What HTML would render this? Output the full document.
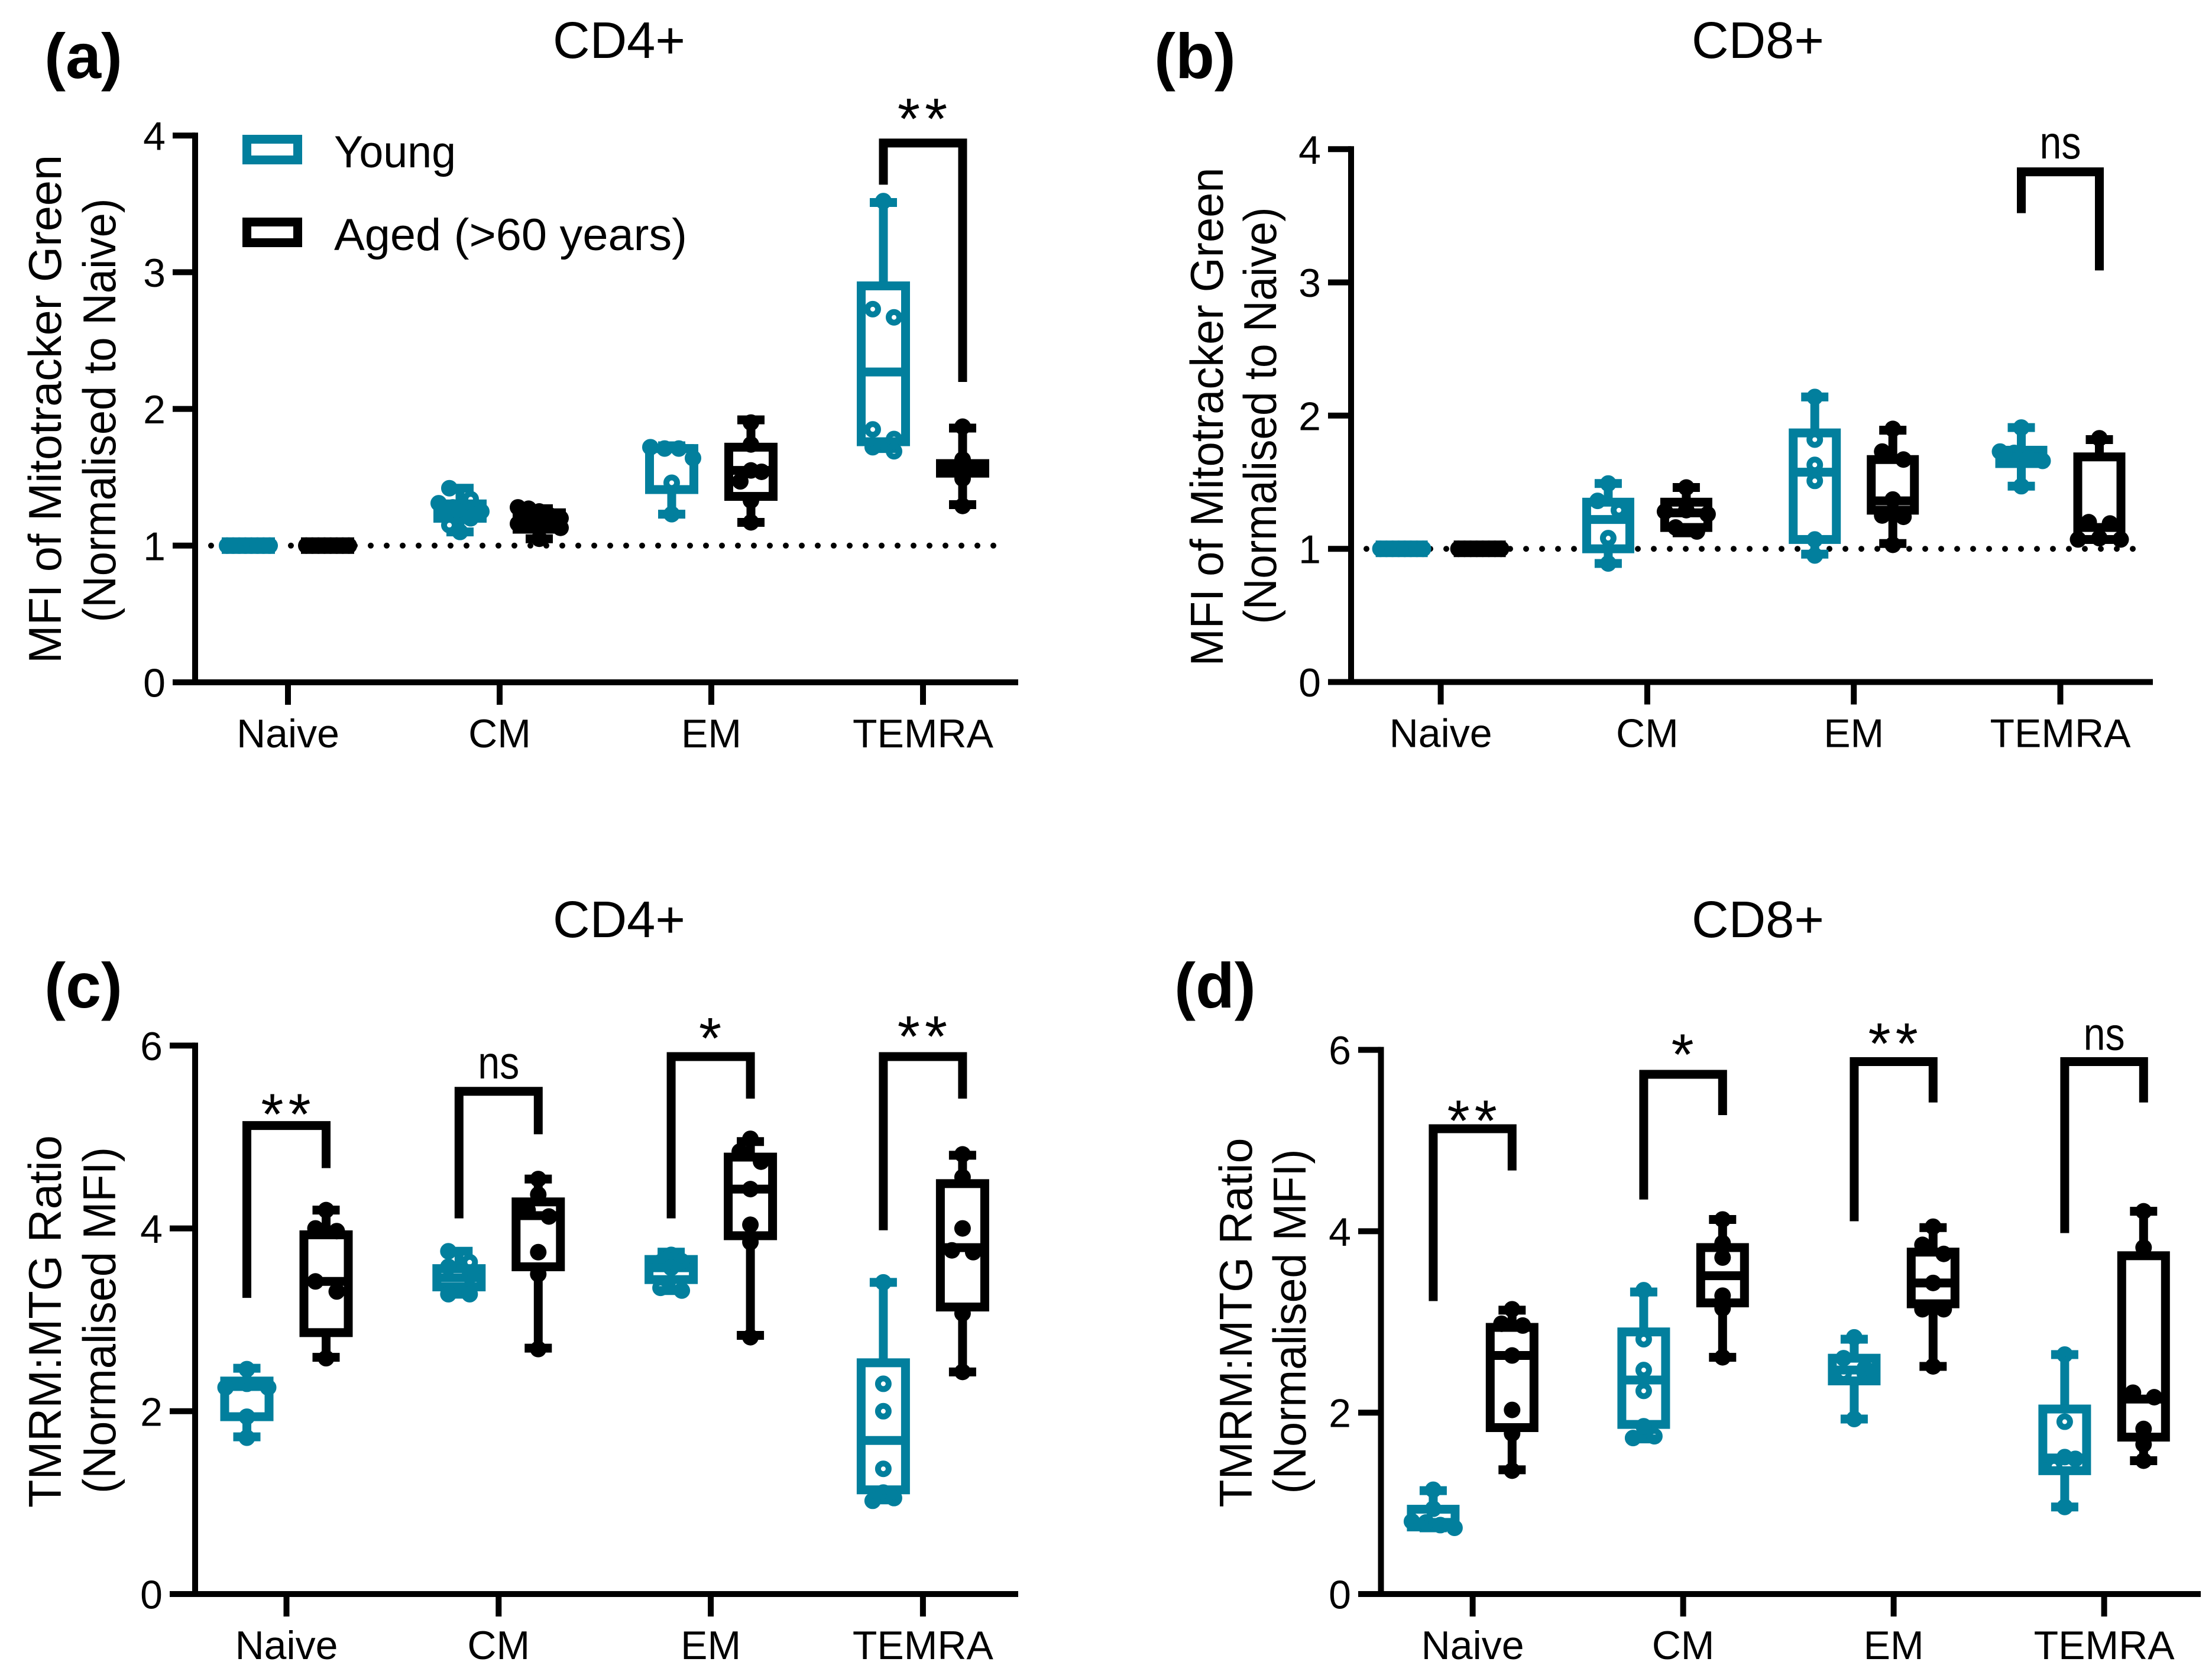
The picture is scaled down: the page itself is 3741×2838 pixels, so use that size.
<!DOCTYPE html>
<html lang="en">
<head>
<meta charset="utf-8">
<title>Mitotracker Green and TMRM:MTG ratio in CD4+ and CD8+ T cell subsets</title>
<style>
html,body{margin:0;padding:0;background:#fff;}
svg{display:block;}
text{font-family:"Liberation Sans",sans-serif;fill:#000;}
.title{font-size:87px;text-anchor:middle;}
.label{font-size:108px;font-weight:bold;}
.ytitle{font-size:78px;text-anchor:middle;}
.legend{font-size:76px;}
</style>
</head>
<body>
<svg id="figure" xmlns="http://www.w3.org/2000/svg" width="3741" height="2838" viewBox="0 0 3741 2838">
  <rect x="0" y="0" width="3741" height="2838" fill="#fff"/>

  <g id="panel-a">
    <text class="label" x="75" y="132">(a)</text>
    <text class="title" x="1047" y="98" textLength="224" lengthAdjust="spacingAndGlyphs">CD4+</text>
    <text class="ytitle" transform="translate(103,692) rotate(-90)" textLength="860" lengthAdjust="spacingAndGlyphs">MFI of Mitotracker Green</text>
    <text class="ytitle" transform="translate(195,694) rotate(-90)" textLength="717" lengthAdjust="spacingAndGlyphs">(Normalised to Naive)</text>
  </g>

  <g id="panel-b">
    <text class="label" x="1952" y="132">(b)</text>
    <text class="title" x="2973" y="98" textLength="224" lengthAdjust="spacingAndGlyphs">CD8+</text>
    <text class="ytitle" transform="translate(2068,705) rotate(-90)" textLength="843" lengthAdjust="spacingAndGlyphs">MFI of Mitotracker Green</text>
    <text class="ytitle" transform="translate(2158,703) rotate(-90)" textLength="705" lengthAdjust="spacingAndGlyphs">(Normalised to Naive)</text>
  </g>

  <g id="panel-c">
    <text class="label" x="75" y="1704">(c)</text>
    <text class="title" x="1047" y="1585" textLength="224" lengthAdjust="spacingAndGlyphs">CD4+</text>
    <text class="ytitle" transform="translate(103,2235) rotate(-90)" textLength="630" lengthAdjust="spacingAndGlyphs">TMRM:MTG Ratio</text>
    <text class="ytitle" transform="translate(195,2233) rotate(-90)" textLength="586" lengthAdjust="spacingAndGlyphs">(Normalised MFI)</text>
  </g>

  <g id="panel-d">
    <text class="label" x="1986" y="1704">(d)</text>
    <text class="title" x="2973" y="1585" textLength="224" lengthAdjust="spacingAndGlyphs">CD8+</text>
    <text class="ytitle" transform="translate(2117,2237) rotate(-90)" textLength="625" lengthAdjust="spacingAndGlyphs">TMRM:MTG Ratio</text>
    <text class="ytitle" transform="translate(2208,2235) rotate(-90)" textLength="583" lengthAdjust="spacingAndGlyphs">(Normalised MFI)</text>
  </g>

  <g id="legend">
    <g>
      <rect x="417.5" y="235.5" width="86" height="35" fill="none" stroke="#027f9d" stroke-width="15"/>
      <text class="legend" x="565" y="283" textLength="206" lengthAdjust="spacingAndGlyphs">Young</text>
    </g>
    <g>
      <rect x="417.5" y="375.5" width="86" height="35" fill="none" stroke="#000" stroke-width="15"/>
      <text class="legend" x="565" y="423" textLength="597" lengthAdjust="spacingAndGlyphs">Aged (&gt;60 years)</text>
    </g>
  </g>
</svg>

<script>
// ---------- shared data ----------
const categories = ["Naive", "CM", "EM", "TEMRA"];
const ticksAB = [0, 1, 2, 3, 4];
const ticksCD = [0, 2, 4, 6];
const referenceValue = 1;

// Box stats per category: [whisker low, Q1, median, Q3, whisker high]
// ---------- panel a ----------
const aYoungBox = [[1, 0.972, 1, 1.028, 1], [1.1, 1.2, 1.25, 1.305, 1.42], [1.23, 1.41, 1.71, 1.71, 1.73], [1.71, 1.76, 2.27, 2.9, 3.51]];
const aAgedBox = [[1, 0.972, 1, 1.028, 1], [1.05, 1.12, 1.18, 1.24, 1.27], [1.17, 1.36, 1.55, 1.72, 1.92], [1.3, 1.53, 1.56, 1.6, 1.86]];
const aYoungPoints = [
  [1, 1, 1, 1, 1, 1, 1, 1],
  [1.42, 1.34, 1.31, 1.28, 1.25, 1.25, 1.22, 1.2, 1.15, 1.1],
  [1.72, 1.71, 1.71, 1.64, 1.46, 1.23],
  [3.52, 2.73, 2.67, 1.85, 1.78, 1.72, 1.69]
];
const aAgedPoints = [
  [1, 1, 1, 1, 1, 1, 1, 1],
  [1.28, 1.27, 1.25, 1.22, 1.2, 1.17, 1.16, 1.13, 1.05],
  [1.9, 1.74, 1.55, 1.54, 1.47, 1.33, 1.17],
  [1.87, 1.63, 1.56, 1.56, 1.49, 1.29]
];
const aBracketCategory = [3];
const aBracketTop = [3.945];
const aBracketLeftEnd = [3.64];
const aBracketRightEnd = [2.197];
const aBracketLabel = ["**"];
const aBracketLabelAt = [4.17];

// ---------- panel b ----------
const bYoungBox = [[1, 0.971, 1, 1.029, 1], [0.89, 1, 1.22, 1.35, 1.49], [0.96, 1.07, 1.575, 1.87, 2.14], [1.47, 1.64, 1.69, 1.74, 1.91]];
const bAgedBox = [[1, 0.971, 1, 1.029, 1], [1.12, 1.16, 1.27, 1.35, 1.46], [1.04, 1.29, 1.36, 1.67, 1.89], [1.07, 1.07, 1.16, 1.69, 1.82]];
const bYoungPoints = [
  [1, 1, 1, 1, 1, 1, 1, 1],
  [1.49, 1.36, 1.29, 1.08, 0.89],
  [2.14, 1.82, 1.63, 1.51, 1.07, 0.95],
  [1.91, 1.73, 1.72, 1.68, 1.66, 1.47]
];
const bAgedPoints = [
  [1, 1, 1, 1, 1, 1, 1, 1],
  [1.46, 1.29, 1.28, 1.26, 1.16, 1.13],
  [1.9, 1.73, 1.67, 1.37, 1.25, 1.24, 1.03],
  [1.83, 1.2, 1.19, 1.08, 1.07, 1.07]
];
const bBracketCategory = [3];
const bBracketTop = [3.83];
const bBracketLeftEnd = [3.52];
const bBracketRightEnd = [3.09];
const bBracketLabel = ["ns"];
const bBracketLabelAt = [3.93];

// ---------- panel c ----------
const cYoungBox = [[1.72, 1.94, 2.27, 2.33, 2.47], [3.28, 3.36, 3.46, 3.56, 3.75], [3.32, 3.44, 3.57, 3.66, 3.74], [1.03, 1.14, 1.68, 2.53, 3.41]];
const cAgedBox = [[2.59, 2.86, 3.42, 3.93, 4.2], [2.69, 3.58, 4.14, 4.29, 4.54], [2.83, 3.92, 4.43, 4.78, 4.95], [2.43, 3.14, 3.79, 4.49, 4.8]];
const cYoungPoints = [
  [2.46, 2.3, 2.26, 2.26, 1.94, 1.71],
  [3.75, 3.63, 3.58, 3.48, 3.28, 3.28],
  [3.71, 3.64, 3.63, 3.57, 3.35, 3.32],
  [3.41, 2.3, 2, 1.37, 1.11, 1.05, 1.02]
];
const cAgedPoints = [
  [4.2, 4, 3.97, 3.42, 3.31, 2.58],
  [4.54, 4.37, 4.2, 4.13, 3.74, 3.5, 2.68],
  [4.98, 4.84, 4.73, 4.43, 4.04, 3.85, 2.81],
  [4.81, 4.56, 4, 3.76, 3.74, 3.07, 2.43]
];
const cBracketCategory = [0, 1, 2, 3];
const cBracketTop = [5.125, 5.5, 5.88, 5.88];
const cBracketLeftEnd = [3.24, 4.11, 4.11, 3.98];
const cBracketRightEnd = [4.66, 5.03, 5.42, 5.42];
const cBracketLabel = ["**", "ns", "*", "**"];
const cBracketLabelAt = [5.32, 5.64, 6.15, 6.17];

// ---------- panel d ----------
const dYoungBox = [[0.73, 0.74, 0.79, 0.935, 1.14], [1.71, 1.87, 2.36, 2.89, 3.33], [1.93, 2.35, 2.47, 2.6, 2.81], [0.96, 1.36, 1.5, 2.04, 2.64]];
const dAgedBox = [[1.37, 1.835, 2.63, 2.94, 3.13], [2.61, 3.21, 3.51, 3.82, 4.13], [2.51, 3.2, 3.43, 3.77, 4.04], [1.47, 1.73, 2.15, 3.73, 4.22]];
const dYoungPoints = [
  [1.15, 0.94, 0.8, 0.79, 0.76, 0.73],
  [3.35, 2.81, 2.47, 2.24, 1.85, 1.74, 1.72],
  [2.83, 2.6, 2.49, 2.43, 2.43, 1.93],
  [2.64, 1.9, 1.51, 1.49, 1.41, 0.96]
];
const dAgedPoints = [
  [3.14, 2.98, 2.96, 2.63, 2.03, 1.77, 1.36],
  [4.13, 3.87, 3.71, 3.29, 3.15, 2.61],
  [4.05, 3.85, 3.75, 3.43, 3.14, 3.14, 2.51],
  [4.22, 3.82, 2.22, 2.17, 1.82, 1.65, 1.47]
];
const dBracketCategory = [0, 1, 2, 3];
const dBracketTop = [5.13, 5.73, 5.87, 5.87];
const dBracketLeftEnd = [3.23, 4.35, 4.11, 3.98];
const dBracketRightEnd = [4.67, 5.28, 5.42, 5.42];
const dBracketLabel = ["**", "*", "**", "ns"];
const dBracketLabelAt = [5.29, 6.02, 6.14, 6.0];

// ---------- drawing ----------
const SVGNS = "http://www.w3.org/2000/svg";
const TEAL = "#027f9d";
const BLACK = "#000";
const LINE = 15;
const AXIS = 10;

function make(parent, tag, attrs) {
  const el = document.createElementNS(SVGNS, tag);
  for (const key in attrs) { el.setAttribute(key, attrs[key]); }
  parent.appendChild(el);
  return el;
}

// Spread points that sit at nearly the same level sideways, as a swarm does.
function swarmOffsets(values, yScale) {
  const order = values.map((v, i) => i).sort((p, q) => values[q] - values[p]);
  const offsets = new Array(values.length).fill(0);
  let i = 0;
  while (i < order.length) {
    let j = i + 1;
    while (j < order.length && Math.abs(yScale(values[order[j]]) - yScale(values[order[i]])) < 20) { j++; }
    const n = j - i;
    const span = Math.abs(yScale(values[order[j - 1]]) - yScale(values[order[i]]));
    let slots;
    if (n === 1) { slots = [0]; }
    else if (n === 2) { slots = [-18, 18]; }
    else if (n === 3) { slots = span > 10 ? [0, 18, -18] : [0, -36, 36]; }
    else { slots = []; for (let k = 0; k < n; k++) { slots.push(-36 + 72 * k / (n - 1)); } }
    for (let k = 0; k < n; k++) { offsets[order[i + k]] = slots[k]; }
    i = j;
  }
  return offsets;
}

function drawAxes(group, layout, ticks, yScale, xScale) {
  const top = yScale(ticks[ticks.length - 1]) - AXIS / 2;

  const ySpine = make(group, "line", { x1: layout.axisX, x2: layout.axisX, y1: top, y2: layout.axisY, stroke: BLACK, "stroke-width": AXIS });
  
  

  const xSpine = make(group, "line", { x1: layout.tickLeft, x2: layout.xEnd, y1: layout.axisY, y2: layout.axisY, stroke: BLACK, "stroke-width": AXIS });
  
  

  ticks.forEach(function (t) {
    const mark = make(group, "line", { x1: layout.tickLeft, x2: layout.axisX, y1: yScale(t), y2: yScale(t), stroke: BLACK, "stroke-width": AXIS });
    
    

    const label = make(group, "text", { x: layout.tickLeft - 12, y: yScale(t) + 24.5, "text-anchor": "end", "font-size": 68 });
    
    
    label.textContent = String(t);
  });

  categories.forEach(function (c, i) {
    const mark = make(group, "line", { x1: xScale(i), x2: xScale(i), y1: layout.axisY, y2: layout.axisY + 38, stroke: BLACK, "stroke-width": AXIS });
    
    

    const label = make(group, "text", { x: xScale(i), y: layout.axisY + 110, "text-anchor": "middle", "font-size": 68 });
    
    
    label.textContent = c;
  });
}

function drawSeries(group, layout, boxes, points, center, color, hollow, yScale) {
  boxes.forEach(function (stats, i) {
    const cx = center(i);
    const lo = stats[0], q1 = stats[1], med = stats[2], q3 = stats[3], hi = stats[4];
    const inner = layout.boxW - LINE;

    const whisker = make(group, "line", { x1: cx, x2: cx, y1: yScale(hi), y2: yScale(lo), stroke: color, "stroke-width": LINE });
    
    

    const capHigh = make(group, "line", { x1: cx - 23, x2: cx + 23, y1: yScale(hi), y2: yScale(hi), stroke: color, "stroke-width": LINE });
    
    

    const capLow = make(group, "line", { x1: cx - 23, x2: cx + 23, y1: yScale(lo), y2: yScale(lo), stroke: color, "stroke-width": LINE });
    
    

    const box = make(group, "rect", { x: cx - inner / 2, width: inner, y: yScale(q3), height: yScale(q1) - yScale(q3), fill: "#fff", stroke: color, "stroke-width": LINE });
    
    

    const median = make(group, "line", { x1: cx - inner / 2, x2: cx + inner / 2, y1: yScale(med), y2: yScale(med), stroke: color, "stroke-width": LINE });
    
    

    const offsets = swarmOffsets(points[i], yScale);
    points[i].forEach(function (v, k) {
      const attrs = hollow
        ? { cx: cx + offsets[k], cy: yScale(v), r: 9, fill: "none", stroke: color, "stroke-width": 10 }
        : { cx: cx + offsets[k], cy: yScale(v), r: 14, fill: color };
      const dot = make(group, "circle", attrs);
      
      
    });
  });
}

function drawBrackets(group, categoryIdx, tops, leftEnds, rightEnds, labels, labelAts, youngX, agedX, xScale, yScale) {
  categoryIdx.forEach(function (c, i) {
    const path = make(group, "path", {
      d: "M" + youngX(c) + " " + yScale(leftEnds[i]) + " V" + yScale(tops[i]) + " H" + agedX(c) + " V" + yScale(rightEnds[i]),
      fill: "none", stroke: BLACK, "stroke-width": LINE, "stroke-linejoin": "miter"
    });
    
    

    const isStars = labels[i].indexOf("*") >= 0;
    const attrs = isStars
      ? { x: xScale(c) + 3, y: yScale(labelAts[i]) + 45, "text-anchor": "middle", "font-size": 98, "letter-spacing": 8 }
      : { x: xScale(c), y: yScale(labelAts[i]), "text-anchor": "middle", "font-size": 78, textLength: 70, lengthAdjust: "spacingAndGlyphs" };
    const text = make(group, "text", attrs);
    
    
    text.textContent = labels[i];
  });
}

function drawPanel(layout, ticks, youngBox, agedBox, youngPoints, agedPoints, bCat, bTop, bLeft, bRight, bLabel, bAt, refDots) {
  const group = document.getElementById(layout.root);
  const yScale = function (v) { return layout.axisY - v * layout.unitY; };
  const xScale = function (i) { return layout.firstTick + i * layout.stepX; };
  const youngX = function (i) { return xScale(i) - layout.offset; };
  const agedX = function (i) { return xScale(i) + layout.offset; };

  if (refDots) {
    const ref = make(group, "line", {
      x1: refDots[0], x2: refDots[1], y1: yScale(referenceValue), y2: yScale(referenceValue),
      stroke: BLACK, "stroke-width": 10, "stroke-linecap": "round", "stroke-dasharray": "0 27"
    });
    
    
  }

  drawSeries(group, layout, youngBox, youngPoints, youngX, TEAL, true, yScale);
  drawSeries(group, layout, agedBox, agedPoints, agedX, BLACK, false, yScale);
  drawAxes(group, layout, ticks, yScale, xScale);
  drawBrackets(group, bCat, bTop, bLeft, bRight, bLabel, bAt, youngX, agedX, xScale, yScale);
}

drawPanel({ root: "panel-a", axisX: 330, axisY: 1154, unitY: 231.2, firstTick: 487, stepX: 358, offset: 67, boxW: 90, xEnd: 1722, tickLeft: 292 },
  ticksAB, aYoungBox, aAgedBox, aYoungPoints, aAgedPoints,
  aBracketCategory, aBracketTop, aBracketLeftEnd, aBracketRightEnd, aBracketLabel, aBracketLabelAt, [357, 1697]);

drawPanel({ root: "panel-b", axisX: 2285, axisY: 1153.5, unitY: 225.3, firstTick: 2436.6, stepX: 349.3, offset: 66, boxW: 88, xEnd: 3641, tickLeft: 2246 },
  ticksAB, bYoungBox, bAgedBox, bYoungPoints, bAgedPoints,
  bBracketCategory, bBracketTop, bBracketLeftEnd, bBracketRightEnd, bBracketLabel, bBracketLabelAt, [2311, 3614]);

drawPanel({ root: "panel-c", axisX: 330, axisY: 2696, unitY: 154.6, firstTick: 484.5, stepX: 358.8, offset: 67, boxW: 90, xEnd: 1722, tickLeft: 287 },
  ticksCD, cYoungBox, cAgedBox, cYoungPoints, cAgedPoints,
  cBracketCategory, cBracketTop, cBracketLeftEnd, cBracketRightEnd, cBracketLabel, cBracketLabelAt, null);

drawPanel({ root: "panel-d", axisX: 2335.5, axisY: 2696, unitY: 153.4, firstTick: 2490.6, stepX: 356, offset: 66.7, boxW: 89, xEnd: 3722, tickLeft: 2297 },
  ticksCD, dYoungBox, dAgedBox, dYoungPoints, dAgedPoints,
  dBracketCategory, dBracketTop, dBracketLeftEnd, dBracketRightEnd, dBracketLabel, dBracketLabelAt, null);
</script>
</body>
</html>
